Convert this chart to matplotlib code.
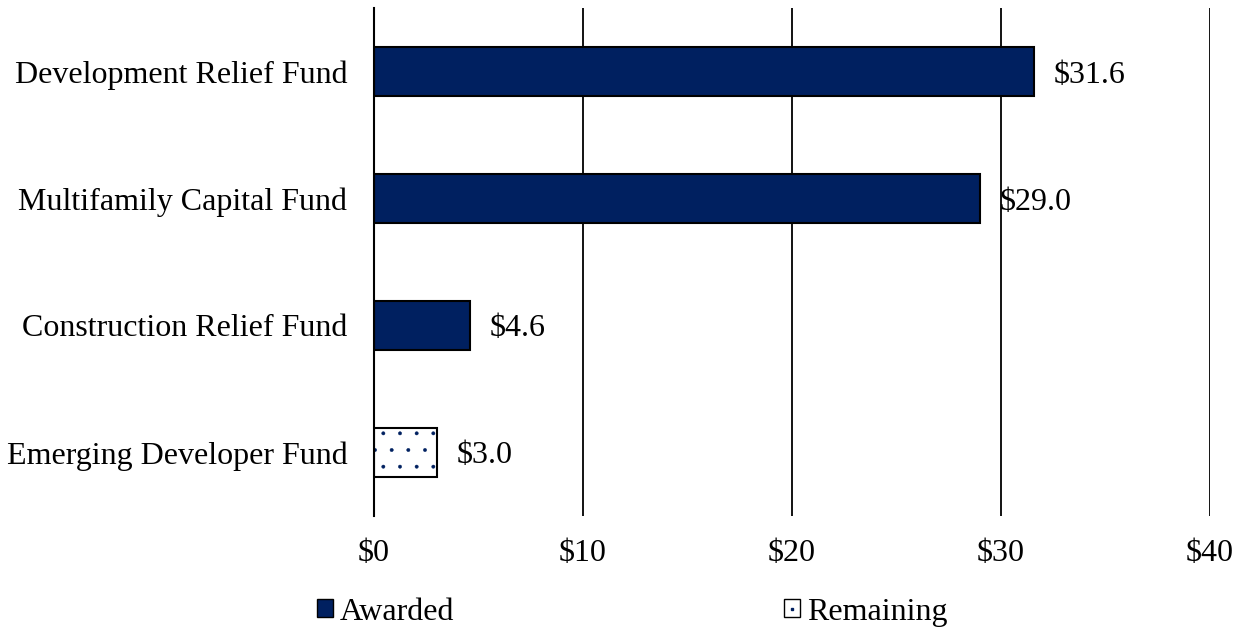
import matplotlib.pyplot as plt
from matplotlib.patches import Patch
from matplotlib.lines import Line2D

plt.rcParams['font.family'] = ['Liberation Serif', 'DejaVu Serif']
plt.rcParams['hatch.linewidth'] = 0.3

# data
funds = ['Development Relief Fund', 'Multifamily Capital Fund',
         'Construction Relief Fund', 'Emerging Developer Fund']
awarded = [31.6, 29.0, 4.6, 0.0]
remaining = [0.0, 0.0, 0.0, 3.0]
labels = ['$31.6', '$29.0', '$4.6', '$3.0']
xticks = [0, 10, 20, 30, 40]
xticklabels = ['$0', '$10', '$20', '$30', '$40']

navy = '#002060'
fs = 23

fig = plt.figure(figsize=(12.42, 6.29), dpi=100)
ax = fig.add_axes([0.301, 0.18, 0.673, 0.807])

y = list(range(len(funds)))
h = 0.39

ax.barh(y, awarded, height=h, color=navy, edgecolor='black', linewidth=1.5, zorder=3)
# remaining: dotted fill, then black outline on top
ax.barh(y, remaining, height=h, color='white', edgecolor=navy, hatch='.',
        linewidth=0, zorder=3)
rem_bars = ax.barh(y, remaining, height=h, fill=False, edgecolor='black',
                   linewidth=1.5, zorder=4)
for r in rem_bars:
    if r.get_width() == 0:
        r.set_visible(False)

for yi, a, r, lab in zip(y, awarded, remaining, labels):
    ax.text(a + r + 0.95, yi, lab, va='center_baseline', ha='left', fontsize=fs)

ax.set_xlim(0, 40)
ax.set_ylim(3.5, -0.5)
ax.set_yticks(y)
ax.set_yticklabels(funds, fontsize=fs)
ax.set_xticks(xticks)
ax.set_xticklabels(xticklabels, fontsize=fs)
ax.tick_params(axis='y', length=0, pad=19)
ax.tick_params(axis='x', length=0, pad=17)

ax.grid(axis='x', color='black', linewidth=1.3, zorder=0)
for s in ['top', 'right', 'bottom']:
    ax.spines[s].set_visible(False)
ax.spines['left'].set_linewidth(1.5)
ax.spines['left'].set_zorder(5)

h_awarded = Patch(facecolor=navy, edgecolor='black')
h_remaining = (Patch(facecolor='white', edgecolor='black'),
               Line2D([], [], marker='s', markersize=1.5, color=navy, linestyle='none'))
fig.legend(handles=[h_awarded, h_remaining], labels=['Awarded', 'Remaining'],
           loc='center', bbox_to_anchor=(0.509, 0.027), ncol=2,
           frameon=False, fontsize=fs, handlelength=0.5, handleheight=0.5,
           handletextpad=0.22, columnspacing=10.3)

fig.savefig('out.png', dpi=100)
